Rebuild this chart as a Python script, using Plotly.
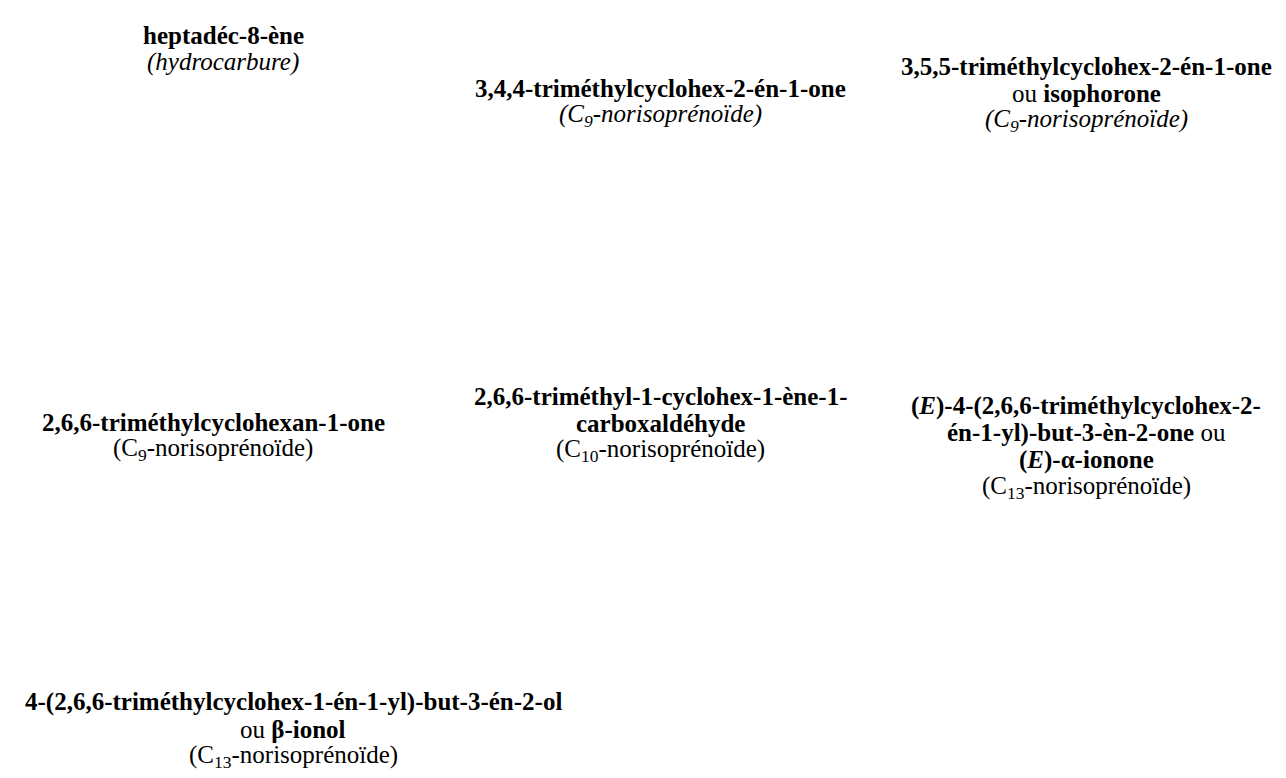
import plotly.graph_objects as go

# Compound captions: one list of text lines per block (HTML rich text)
block_lines = [
    ["<b>heptadéc-8-ène</b>", "<i>(hydrocarbure)</i>"],
    ["<b>3,4,4-triméthylcyclohex-2-én-1-one</b>", "<i>(C<sub>9</sub>-norisoprénoïde)</i>"],
    ["<b>3,5,5-triméthylcyclohex-2-én-1-one</b>", "ou <b>isophorone</b>", "<i>(C<sub>9</sub>-norisoprénoïde)</i>"],
    ["<b>2,6,6-triméthylcyclohexan-1-one</b>", "(C<sub>9</sub>-norisoprénoïde)"],
    ["<b>2,6,6-triméthyl-1-cyclohex-1-ène-1-</b>", "<b>carboxaldéhyde</b>", "(C<sub>10</sub>-norisoprénoïde)"],
    ["<b>(<i>E</i>)-4-(2,6,6-triméthylcyclohex-2-</b>", "<b>én-1-yl)-but-3-èn-2-one</b> ou",
     "<b>(<i>E</i>)-α-ionone</b>", "(C<sub>13</sub>-norisoprénoïde)"],
    ["<b>4-(2,6,6-triméthylcyclohex-1-én-1-yl)-but-3-én-2-ol</b>", "ou <b>β-ionol</b>",
     "(C<sub>13</sub>-norisoprénoïde)"],
]
# block anchor: centre x and y of the first line (page layout)
block_x = [215, 652, 1078, 205, 652, 1078, 285]
block_y0 = [27, 80, 58, 414, 388, 398, 694]
LINE_STEP = 27
FONT = dict(family="Liberation Serif, Times New Roman, serif", size=25, color="black")

fig = go.Figure()
for lines, bx, by in zip(block_lines, block_x, block_y0):
    for i, t in enumerate(lines):
        fig.add_annotation(x=bx, y=by + i * LINE_STEP, xref="x", yref="y",
                           text=t, showarrow=False, font=FONT,
                           xanchor="center", yanchor="middle")

fig.update_layout(
    width=1286, height=778,
    margin=dict(l=0, r=0, t=0, b=0),
    paper_bgcolor="white", plot_bgcolor="white",
    showlegend=False,
    xaxis=dict(range=[0, 1286], visible=False, fixedrange=True),
    yaxis=dict(range=[778, 0], visible=False, fixedrange=True),
)
fig.write_html("out.html")
